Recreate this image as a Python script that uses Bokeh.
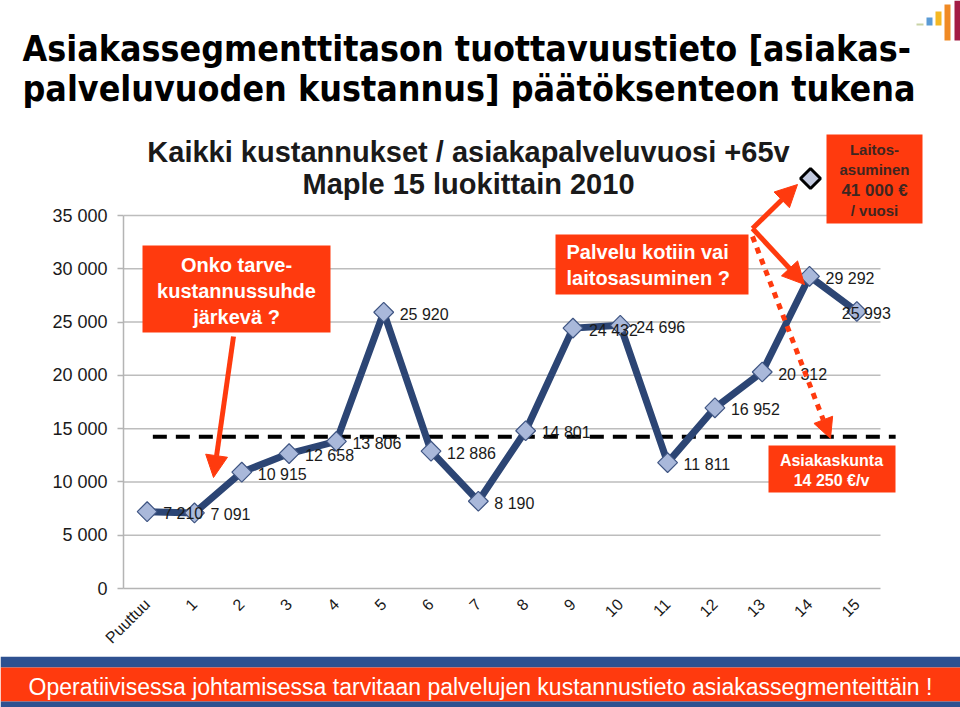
import math
from bokeh.plotting import figure
from bokeh.layouts import column
from bokeh.models import (ColumnDataSource, Range1d, FixedTicker, Label, LabelSet,
                          BoxAnnotation, PolyAnnotation, Arrow, NormalHead)
from bokeh.core.properties import value
from bokeh.embed import file_html
from bokeh.resources import INLINE

# ---------------- data ----------------
categories = ["Puuttuu", "1", "2", "3", "4", "5", "6", "7", "8", "9",
              "10", "11", "12", "13", "14", "15"]
costs = [7210, 7091, 10915, 12658, 13806, 25920, 12886, 8190, 14801,
         24432, 24696, 11811, 16952, 20312, 29292, 25993]
average_cost = 14250
y_ticks = [0, 5000, 10000, 15000, 20000, 25000, 30000, 35000]
y_tick_labels = ["0", "5 000", "10 000", "15 000", "20 000", "25 000", "30 000", "35 000"]
cost_labels = [f"{v:,}".replace(",", " ") for v in costs]

# ---------------- style ----------------
NAVY = "#2C4574"
RED = "#FF3A0E"
BLUE = "#2E5190"
FONT = "Liberation Sans"
TITLE_FONT = "DejaVu Sans Condensed"
W = 960
TOP_H = 125                 # title strip
BANNER_TOP = 656
MAIN_H = BANNER_TOP - TOP_H  # chart
BOT_H = 707 - BANNER_TOP     # banner

x_pos = [i + 0.5 for i in range(len(categories))]
label_dx = [16] * (len(costs) - 1) + [-15]
n = len(categories)

# =============== top strip (title + logo) ===============
top = figure(width=W, height=TOP_H, output_backend="svg", toolbar_location=None,
             x_range=Range1d(0, W), y_range=Range1d(TOP_H, 0),
             x_axis_location=None, y_axis_location=None, frame_align=False,
             min_border=0, min_border_left=0, min_border_right=0,
             min_border_top=0, min_border_bottom=0)
top.grid.visible = False
top.outline_line_color = None

for yy, s in [(48, "Asiakassegmenttitason tuottavuustieto [asiakas-"),
              (88, "palveluvuoden kustannus] päätöksenteon tukena")]:
    top.add_layout(Label(x=22, y=yy, text=s, text_font=TITLE_FONT, text_font_size="35.5px",
                         text_font_style="bold", text_color="black",
                         text_align="left", text_baseline="middle"))

# logo bars
top.quad(left=[916, 926, 935, 944, 954], right=[923, 932, 941, 950, 960],
         top=[23, 17, 11, 4, 0], bottom=[25, 25, 25, 40, 40],
         fill_color=["#C9D3A6", "#5B9BD5", "#F5B822", "#F08A24", "#A31C44"],
         line_color=None)

# =============== main chart ===============
x_end = n * (960 - 123) / (880 - 123)
y_end = 35000 * (588 - TOP_H) / (588 - 215)

src = ColumnDataSource(dict(x=x_pos, cost=costs, lab=cost_labels, dx=label_dx))

p = figure(width=W, height=MAIN_H, output_backend="svg", toolbar_location=None,
           x_range=Range1d(0, x_end), y_range=Range1d(0, y_end), frame_align=False,
           min_border_left=123, min_border_right=0, min_border_top=0,
           min_border_bottom=MAIN_H - (588 - TOP_H))
p.outline_line_color = None
p.background_fill_color = "white"
p.border_fill_color = "white"
p.grid.visible = False

# axes
p.yaxis.ticker = FixedTicker(ticks=y_ticks)
p.yaxis.bounds = (y_ticks[0], y_ticks[-1])
p.yaxis.major_label_overrides = {t: l for t, l in zip(y_ticks, y_tick_labels)}
p.yaxis.axis_line_color = "#B4B4B4"
p.yaxis.axis_line_width = 1.5
p.yaxis.major_tick_line_color = "#B4B4B4"
p.yaxis.major_tick_line_width = 1.5
p.yaxis.major_tick_out = 6
p.yaxis.major_tick_in = 0
p.yaxis.minor_tick_line_color = None
p.yaxis.major_label_standoff = 10
p.yaxis.major_label_text_font = FONT
p.yaxis.major_label_text_font_size = "18px"
p.yaxis.major_label_text_color = "#1A1A1A"

p.xaxis.ticker = FixedTicker(ticks=x_pos)
p.xaxis.bounds = (0, n)
p.xaxis.major_label_overrides = {xp: c for xp, c in zip(x_pos, categories)}
p.xaxis.axis_line_color = "#B4B4B4"
p.xaxis.axis_line_width = 1.5
p.xaxis.major_tick_line_color = None
p.xaxis.minor_tick_line_color = None
p.xaxis.major_label_orientation = math.pi / 4
p.xaxis.major_label_standoff = 7
p.xaxis.major_label_text_font = FONT
p.xaxis.major_label_text_font_size = "16px"
p.xaxis.major_label_text_color = "#1A1A1A"

# horizontal grid lines across the category area
p.segment(x0=0, x1=n, y0=y_ticks[1:], y1=y_ticks[1:], line_color="#BDBDBD", line_width=1.5)

# average dashed line
p.segment(x0=0.62, x1=16.32, y0=average_cost, y1=average_cost,
          line_color="black", line_width=4, line_dash="14 9")

# series
p.line(x="x", y="cost", source=src, line_color=NAVY, line_width=7, line_join="round")
p.scatter(x="x", y="cost", source=src, marker="square", angle=math.pi / 4, size=14,
          fill_color="#A9B8DA", line_color="#3E5482", line_width=1.2)

p.add_layout(LabelSet(x="x", y="cost", text="lab", source=src, x_offset="dx", y_offset=-2,
                      text_baseline="middle", text_align="left", text_font=value(FONT),
                      text_font_size="16px", text_color="#1A1A1A"))


def py(y):
    return y - TOP_H


def box(l, t, r, b, color):
    p.add_layout(BoxAnnotation(left=l, right=r, top=py(t), bottom=py(b),
                               left_units="canvas", right_units="canvas",
                               top_units="canvas", bottom_units="canvas",
                               fill_color=color, fill_alpha=1, line_color=None,
                               level="annotation"))


def text(x, y, s, size, color="black", bold=False, align="left"):
    p.add_layout(Label(x=x, y=py(y), x_units="canvas", y_units="canvas", text=s,
                       text_font=FONT, text_font_size=size, text_color=color,
                       text_font_style="bold" if bold else "normal",
                       text_align=align, text_baseline="middle"))


def arrow(x0, y0, x1, y1, dash="solid", head=22):
    p.add_layout(Arrow(x_start=x0, y_start=py(y0), x_end=x1, y_end=py(y1),
                       start_units="canvas", end_units="canvas",
                       line_color=RED, line_width=5, line_dash=dash,
                       end=NormalHead(size=head, fill_color=RED, line_color=RED)))


# subtitle
text(468, 151, "Kaikki kustannukset / asiakapalveluvuosi +65v", "29px", "#1A1A1A", True, "center")
text(468, 183, "Maple 15 luokittain 2010", "29px", "#1A1A1A", True, "center")

# Onko box
box(142, 245, 330, 332, RED)
text(236, 264, "Onko tarve-", "20px", "white", True, "center")
text(236, 290, "kustannussuhde", "20px", "white", True, "center")
text(236, 316, "järkevä ?", "20px", "white", True, "center")
arrow(233, 336, 213, 477)

# Palvelu box
box(555, 234, 748, 294, RED)
text(566, 251, "Palvelu kotiin vai", "20px", "white", True)
text(566, 277, "laitosasuminen ?", "20px", "white", True)

# Laitos box
box(826, 134, 922, 223, RED)
text(874, 149, "Laitos-", "15px", "#3E2620", True, "center")
text(874, 169, "asuminen", "15px", "#3E2620", True, "center")
text(874, 190, "41 000 €", "17px", "#3E2620", True, "center")
text(874, 210, "/ vuosi", "15px", "#3E2620", True, "center")

# diamond icon for institutional care
p.add_layout(PolyAnnotation(xs=[800, 810, 820, 810],
                            ys=[py(178), py(168), py(178), py(188)],
                            xs_units="canvas", ys_units="canvas",
                            fill_color="#C3CADF", fill_alpha=1,
                            line_color="black", line_alpha=1, line_width=3))

# arrows from the Palvelu box
arrow(752, 228, 797, 184)
arrow(752, 228, 804, 284)
arrow(752, 236, 830, 438, dash="6 6", head=20)

# Asiakaskunta box
box(768, 445, 895, 492, RED)
text(831, 460, "Asiakaskunta", "16px", "white", True, "center")
text(831, 480, "14 250 €/v", "16px", "white", True, "center")

# =============== bottom banner ===============
bot = figure(width=W, height=BOT_H, output_backend="svg", toolbar_location=None,
             x_range=Range1d(0, W), y_range=Range1d(707, BANNER_TOP),
             x_axis_location=None, y_axis_location=None, frame_align=False,
             min_border=0, min_border_left=0, min_border_right=0,
             min_border_top=0, min_border_bottom=0)
bot.grid.visible = False
bot.outline_line_color = None
bot.quad(left=[0, 0, 0], right=[W, W, W], top=[BANNER_TOP, 667, 701], bottom=[667, 701, 707],
         fill_color=[BLUE, RED, BLUE], line_color=None)
bot.add_layout(Label(x=480, y=686,
                     text="Operatiivisessa johtamisessa tarvitaan palvelujen kustannustieto asiakassegmenteittäin !",
                     text_font=FONT, text_font_size="23px", text_color="white",
                     text_align="center", text_baseline="middle"))

layout = column(top, p, bot, spacing=0)
open("out.html", "w").write(file_html(layout, INLINE))
